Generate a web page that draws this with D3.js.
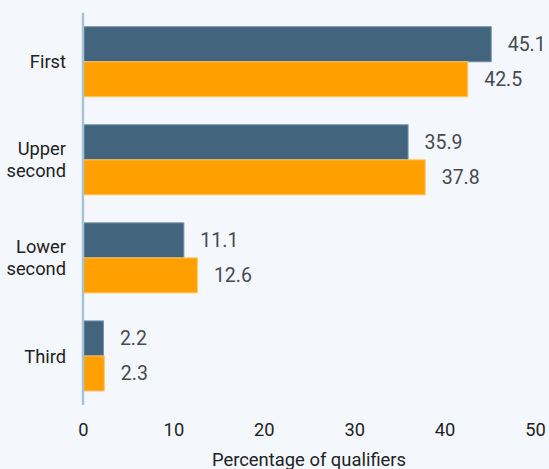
<!DOCTYPE html>
<html>
<head>
<meta charset="utf-8">
<script src="https://cdn.jsdelivr.net/npm/d3@7"></script>
<style>
  html, body { margin: 0; padding: 0; background: #f4f8fc; }
  svg { display: block; }
  text { font-family: Roboto, "Noto Sans", sans-serif; }
</style>
</head>
<body>
<svg id="chart" width="549" height="469"></svg>
<script>
const categories = [["First"], ["Upper", "second"], ["Lower", "second"], ["Third"]];
const categoryKeys = ["First", "Upper second", "Lower second", "Third"];
const series1 = [45.1, 35.9, 11.1, 2.2];
const series2 = [42.5, 37.8, 12.6, 2.3];
const xTicks = [0, 10, 20, 30, 40, 50];
const axisTitle = "Percentage of qualifiers";

const svg = d3.select("#chart");
const W = 549, H = 469;
svg.append("rect").attr("width", W).attr("height", H).attr("fill", "#f4f8fc");

const x = d3.scaleLinear().domain([0, 50]).range([83, 535]);
const y = d3.scaleBand().domain(categoryKeys).range([12.7, 405])
  .paddingInner(0.286).paddingOuter(0.143);
const sub = d3.scaleBand().domain([0, 1]).range([0, y.bandwidth()]);

const colors = ["#42647d", "#ffa000"];
const strokes = ["#6f8ea5", "#ffc766"];

const data = categoryKeys.flatMap((c, i) => [
  { cat: c, s: 0, v: series1[i] },
  { cat: c, s: 1, v: series2[i] }
]);

svg.append("g").selectAll("rect").data(data).join("rect")
  .attr("x", x(0) + 0.5)
  .attr("y", d => y(d.cat) + sub(d.s))
  .attr("width", d => x(d.v) - x(0))
  .attr("height", sub.bandwidth())
  .attr("fill", d => colors[d.s])
  .attr("stroke", d => strokes[d.s])
  .attr("stroke-width", 1);

svg.append("g").selectAll("text").data(data).join("text")
  .attr("x", d => x(d.v) + 17)
  .attr("y", d => y(d.cat) + sub(d.s) + sub.bandwidth() / 2)
  .attr("dy", "0.36em")
  .attr("font-size", 19.5)
  .attr("fill", "#474a4f")
  .text(d => d.v.toFixed(1));

// axis line
svg.append("line")
  .attr("x1", x(0)).attr("x2", x(0))
  .attr("y1", 12.7).attr("y2", 405)
  .attr("stroke", "#a9c3d6").attr("stroke-width", 2.5);

// category labels
const catG = svg.append("g");
categories.forEach((lines, i) => {
  const cy = y(categoryKeys[i]) + y.bandwidth() / 2;
  const lh = 22;
  const t = catG.append("text")
    .attr("text-anchor", "end")
    .attr("font-size", 18.3)
    .attr("fill", "#222");
  lines.forEach((ln, j) => {
    t.append("tspan")
      .attr("x", 66)
      .attr("y", cy + (j - (lines.length - 1) / 2) * lh)
      .attr("dy", "0.36em")
      .text(ln);
  });
});

// x axis
const xAxis = d3.axisBottom(x).tickValues(xTicks).tickSize(0).tickPadding(18)
  .tickFormat(d3.format("d"));
const gx = svg.append("g").attr("transform", "translate(0,405)").call(xAxis);
gx.select(".domain").remove();
gx.selectAll("text")
  .attr("font-size", 18.3)
  .attr("font-family", "Roboto, 'Noto Sans', sans-serif")
  .attr("fill", "#222");

svg.append("text")
  .attr("x", (x(0) + x(50)) / 2)
  .attr("y", 466)
  .attr("text-anchor", "middle")
  .attr("font-size", 18.4)
  .attr("fill", "#222")
  .text(axisTitle);
</script>
</body>
</html>
